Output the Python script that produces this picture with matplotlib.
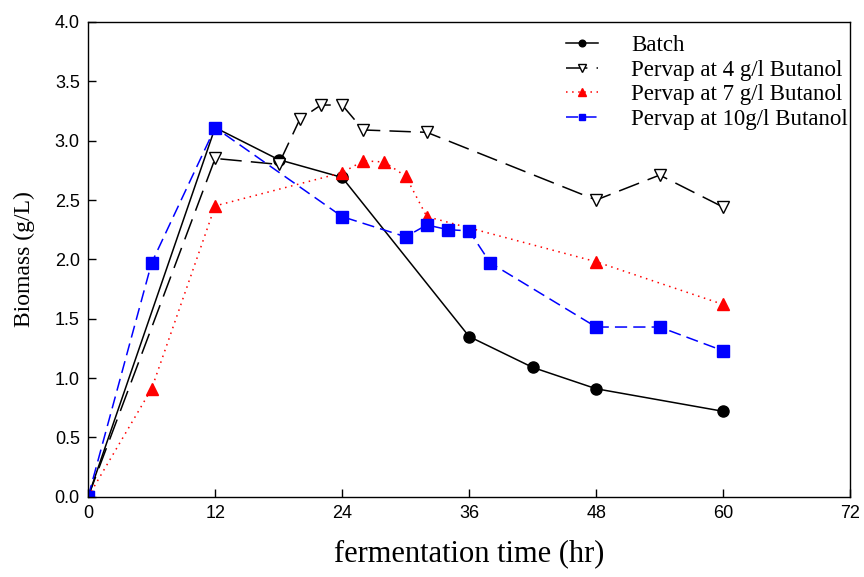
import numpy as np
import matplotlib.pyplot as plt

t_batch = [0, 12, 18, 24, 36, 42, 48, 60]
batch = [0.0, 3.11, 2.84, 2.69, 1.35, 1.09, 0.91, 0.72]

t_p4 = [0, 12, 18, 20, 22, 24, 26, 32, 48, 54, 60]
p4 = [0.0, 2.85, 2.80, 3.18, 3.30, 3.30, 3.09, 3.07, 2.50, 2.71, 2.44]

t_p7 = [0, 6, 12, 24, 26, 28, 30, 32, 48, 60]
p7 = [0.0, 0.91, 2.45, 2.73, 2.83, 2.82, 2.70, 2.36, 1.98, 1.62]

t_p10 = [0, 6, 12, 24, 30, 32, 34, 36, 38, 48, 54, 60]
p10 = [0.0, 1.97, 3.11, 2.36, 2.19, 2.29, 2.25, 2.24, 1.97, 1.43, 1.43, 1.23]

serif = ['Liberation Serif', 'DejaVu Serif']
tickfont = ['Liberation Sans Narrow', 'Liberation Sans', 'DejaVu Sans']

fig = plt.figure(figsize=(8.64, 5.77), dpi=100)
ax = fig.add_axes([0.102, 0.139, 0.882, 0.823])

ax.plot(t_batch, batch, color='black', lw=1.1, ls='-', marker='o', ms=8,
        label='Batch')
ax.plot(t_p4, p4, color='black', lw=1.1, ls=(0, (14, 6)), marker='v', ms=9,
        mfc='white', mec='black', label='Pervap at 4 g/l Butanol')
ax.plot(t_p7, p7, color='red', lw=1.1, ls=(0, (1, 3)), marker='^', ms=9,
        label='Pervap at 7 g/l Butanol')
ax.plot(t_p10, p10, color='blue', lw=1.1, ls=(0, (8, 4)), marker='s', ms=8,
        label='Pervap at 10g/l Butanol')

ax.set_xlim(0, 72)
ax.set_ylim(0, 4.0)
ax.set_xticks(np.arange(0, 73, 12))
ax.set_yticks(np.arange(0, 4.01, 0.5))
ax.set_yticklabels(['%.1f' % v for v in np.arange(0, 4.01, 0.5)])
ax.tick_params(direction='in', length=6, width=1, labelsize=13, pad=6)
for lab in ax.get_xticklabels() + ax.get_yticklabels():
    lab.set_family(tickfont)
for s in ax.spines.values():
    s.set_linewidth(1.0)

ax.set_xlabel('fermentation time (hr)', family=serif, fontsize=22, labelpad=12)
ax.set_ylabel('Biomass (g/L)', family=serif, fontsize=17, labelpad=14)

leg = ax.legend(loc='upper right', frameon=False, prop={'family': serif, 'size': 16.5},
                markerscale=0.6, handlelength=1.4, labelspacing=0.15,
                handletextpad=1.45, borderaxespad=0.0, borderpad=0.0,
                bbox_to_anchor=(0.997, 0.972))

fig.savefig('out.png', dpi=100)
